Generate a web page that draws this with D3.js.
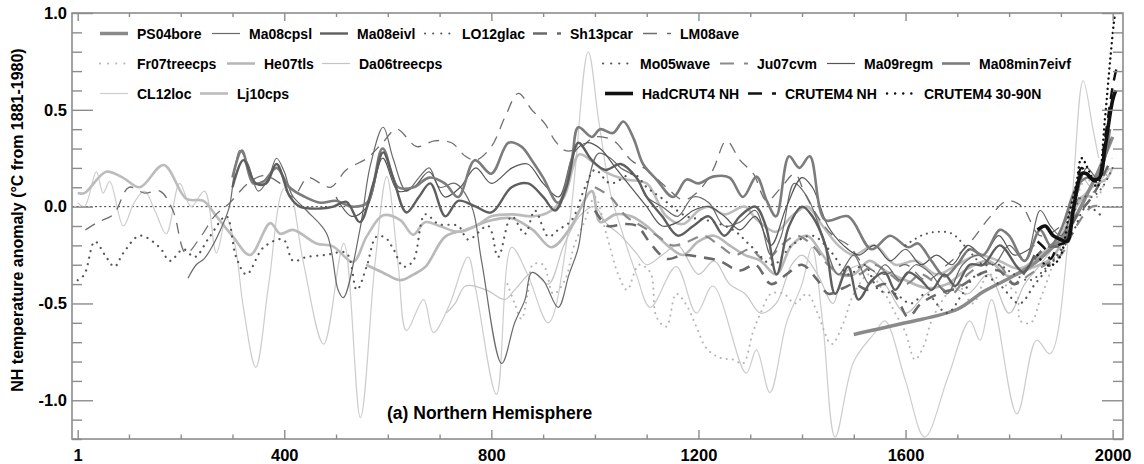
<!DOCTYPE html>
<html>
<head>
<meta charset="utf-8">
<script src="https://cdn.jsdelivr.net/npm/d3@7/dist/d3.min.js"></script>
<style>
body { margin: 0; background: #fff; }
svg { display: block; font-family: "Liberation Sans", Arial, Helvetica, sans-serif; font-weight: bold; }
</style>
</head>
<body>
<svg id="chart" width="1144" height="464"></svg>
<script>
// tick labels
const xMajorTicks = [1, 400, 800, 1200, 1600, 2000];
const xMinorTicks = [100, 200, 300, 500, 600, 700, 900, 1000, 1100, 1300, 1400, 1500, 1700, 1800, 1900];
const yMajorTicks = [-1.0, -0.5, 0.0, 0.5, 1.0];
const yMinorTicks = [-1.2, -1.1, -0.9, -0.8, -0.7, -0.6, -0.4, -0.3, -0.2, -0.1, 0.1, 0.2, 0.3, 0.4, 0.6, 0.7, 0.8, 0.9];

// series: [year, anomaly]
const cl12loc = [[1,0.02],[14,0.0],[37,0.18],[50,0.07],[63,0.13],[89,-0.1],[110,0.02],[130,0.08],[150,-0.02],[172,-0.14],[198,0.12],[220,0.0],[246,0.08],[269,-0.24],[288,-0.06],[305,-0.2],[321,-0.52],[345,-0.83],[370,-0.4],[398,0.09],[408,0.1],[437,-0.29],[476,-0.71],[515,-0.19],[547,-1.09],[575,-0.3],[598,0.155],[620,-0.3],[636,-0.64],[669,-0.48],[688,-0.65],[717,-0.52],[755,-0.26],[770,-0.43],[810,-0.97],[839,-0.21],[870,-0.35],[910,-0.6],[950,-0.1],[987,0.8],[1007,0.45],[1030,0.07],[1049,-0.1],[1080,-0.35],[1107,-0.52],[1157,-0.31],[1196,-0.55],[1228,-0.41],[1292,-0.86],[1312,-0.74],[1338,-0.96],[1370,-0.6],[1400,-0.4],[1419,-0.21],[1440,-0.6],[1464,-1.19],[1500,-0.8],[1541,-0.65],[1560,-0.59],[1600,-0.9],[1637,-1.19],[1682,-0.88],[1724,-0.59],[1744,-0.69],[1766,-0.48],[1815,-1.07],[1853,-0.69],[1879,-0.76],[1917,-0.1],[1943,0.65],[1962,0.4],[1973,0.25]];
const da06treecps = [[713,-0.55],[730,-0.5],[750,-0.41],[790,-0.43],[826,-0.48],[845,-0.43],[880,-0.34],[910,-0.4],[940,-0.2],[970,-0.05],[1000,0.0],[1020,-0.08],[1050,-0.15],[1080,-0.24],[1100,-0.3],[1130,-0.25],[1160,-0.2],[1200,-0.35],[1230,-0.28],[1260,-0.4],[1290,-0.45],[1320,-0.55],[1350,-0.5],[1380,-0.3],[1400,-0.25],[1430,-0.35],[1460,-0.5],[1480,-0.35],[1520,-0.3],[1560,-0.4],[1600,-0.55],[1640,-0.45],[1680,-0.4],[1720,-0.45],[1760,-0.35],[1800,-0.55],[1830,-0.4],[1860,-0.3],[1900,-0.15],[1940,0.15],[1960,0.1],[1995,0.2]];
const fr07treecps = [[831,-0.4],[845,-0.5],[858,-0.58],[870,-0.45],[880,-0.3],[900,-0.3],[920,-0.45],[942,-0.38],[960,-0.2],[981,-0.07],[1000,0.05],[1023,-0.15],[1045,-0.35],[1062,-0.43],[1085,-0.3],[1107,-0.34],[1119,-0.57],[1138,-0.62],[1157,-0.45],[1175,-0.5],[1196,-0.62],[1215,-0.73],[1241,-0.78],[1267,-0.79],[1286,-0.81],[1305,-0.65],[1320,-0.55],[1340,-0.45],[1365,-0.45],[1386,-0.5],[1410,-0.45],[1430,-0.55],[1457,-0.71],[1480,-0.6],[1500,-0.45],[1530,-0.35],[1560,-0.45],[1580,-0.55],[1600,-0.65],[1618,-0.79],[1635,-0.72],[1650,-0.59],[1680,-0.45],[1700,-0.4],[1730,-0.5],[1760,-0.35],[1790,-0.4],[1815,-0.45],[1822,-0.59],[1842,-0.6],[1860,-0.48],[1879,-0.34],[1911,-0.05],[1930,0.05],[1950,0.15],[1970,0.05],[1992,0.2]];
const he07tls = [[558,-0.3],[590,-0.34],[624,-0.38],[650,-0.35],[673,-0.31],[711,-0.155],[750,-0.12],[800,-0.07],[839,-0.06],[880,-0.12],[916,-0.21],[950,-0.12],[994,0.08],[1010,-0.08],[1040,-0.04],[1070,-0.05],[1100,-0.1],[1140,-0.2],[1170,-0.25],[1200,-0.18],[1230,-0.15],[1260,-0.2],[1290,-0.25],[1320,-0.28],[1350,-0.35],[1380,-0.2],[1410,-0.15],[1440,-0.25],[1470,-0.35],[1500,-0.35],[1530,-0.28],[1560,-0.33],[1600,-0.38],[1640,-0.42],[1680,-0.4],[1720,-0.32],[1760,-0.28],[1800,-0.36],[1840,-0.32],[1880,-0.27],[1910,-0.15],[1940,0.05],[1960,0.05]];
const lj10cps = [[1,0.07],[14,0.07],[56,0.18],[88,0.15],[121,0.1],[167,0.215],[211,0.04],[244,0.03],[269,-0.05],[301,-0.155],[334,-0.25],[373,-0.085],[392,-0.14],[417,-0.12],[462,-0.19],[494,-0.205],[533,-0.285],[559,-0.155],[591,-0.045],[624,-0.07],[649,-0.145],[672,-0.08],[700,-0.1],[736,-0.13],[770,-0.1],[800,-0.05],[840,-0.04],[880,-0.05],[910,-0.03],[940,0.05],[970,0.27],[1000,0.22],[1020,0.18],[1060,0.14],[1100,0.12],[1138,-0.05],[1170,-0.09],[1200,-0.02],[1220,0.0],[1250,-0.04],[1290,0.0],[1310,-0.06],[1350,-0.13],[1380,-0.05],[1410,0.0],[1440,-0.1],[1470,-0.2],[1500,-0.25],[1540,-0.2],[1580,-0.3],[1620,-0.28],[1660,-0.35],[1700,-0.3],[1740,-0.25],[1780,-0.28],[1820,-0.32],[1860,-0.25],[1900,-0.15],[1930,0.0],[1960,0.1],[1990,0.15],[1999,0.2]];
const ps04bore = [[1500,-0.66],[1600,-0.6],[1700,-0.53],[1750,-0.44],[1800,-0.37],[1850,-0.29],[1880,-0.22],[1900,-0.17],[1925,-0.07],[1950,0.06],[1975,0.2],[2000,0.36]];
const lm08ave = [[16,-0.12],[40,-0.08],[70,-0.04],[100,0.1],[130,0.07],[160,0.08],[185,-0.02],[210,-0.24],[240,-0.15],[265,-0.05],[295,0.02],[330,0.12],[360,0.16],[392,0.12],[417,0.05],[445,0.15],[470,0.12],[490,0.1],[520,0.19],[560,0.25],[590,0.33],[617,0.4],[656,0.31],[690,0.34],[723,0.33],[750,0.26],[770,0.24],[800,0.31],[826,0.46],[852,0.585],[878,0.5],[903,0.43],[923,0.34],[942,0.29],[970,0.3],[1000,0.36],[1036,0.34],[1070,0.24],[1100,0.19],[1138,0.1],[1171,0.035],[1200,0.08],[1228,0.19],[1254,0.34],[1280,0.24],[1306,0.17],[1332,0.03],[1360,0.1],[1386,0.17],[1405,0.07],[1430,-0.05],[1460,-0.15],[1490,-0.2],[1520,-0.3],[1560,-0.35],[1600,-0.3],[1640,-0.38],[1680,-0.3],[1720,-0.2],[1764,-0.05],[1796,0.03],[1825,0.0],[1860,-0.15],[1900,-0.1],[1935,0.05]];
const ju07cvm = [[1000,0.1],[1030,0.05],[1060,-0.05],[1090,-0.1],[1120,-0.15],[1150,-0.2],[1180,-0.18],[1210,-0.15],[1240,-0.2],[1270,-0.25],[1300,-0.22],[1330,-0.28],[1360,-0.2],[1390,-0.15],[1420,-0.2],[1450,-0.3],[1480,-0.35],[1510,-0.35],[1540,-0.3],[1570,-0.35],[1600,-0.4],[1630,-0.35],[1660,-0.4],[1690,-0.45],[1720,-0.35],[1750,-0.3],[1780,-0.3],[1810,-0.4],[1840,-0.35],[1870,-0.3],[1900,-0.25],[1930,-0.1],[1960,0.0],[1980,0.0]];
const sh13pcar = [[1000,-0.02],[1025,-0.1],[1055,-0.09],[1081,-0.1],[1110,-0.2],[1139,-0.27],[1170,-0.25],[1203,-0.26],[1240,-0.28],[1280,-0.33],[1310,-0.3],[1340,-0.4],[1370,-0.35],[1400,-0.3],[1430,-0.38],[1451,-0.45],[1480,-0.42],[1500,-0.4],[1528,-0.43],[1560,-0.4],[1585,-0.48],[1605,-0.57],[1630,-0.5],[1663,-0.45],[1700,-0.42],[1725,-0.38],[1750,-0.34],[1780,-0.33],[1810,-0.4],[1840,-0.3],[1872,-0.21],[1900,-0.2],[1930,-0.05],[1960,0.05],[1998,0.25]];
const ma08cpsl = [[214,-0.37],[230,-0.3],[245,-0.27],[262,-0.2],[280,-0.1],[294,0.0],[305,0.2],[314,0.29],[330,0.22],[350,0.08],[370,0.15],[385,0.25],[400,0.18],[415,0.06],[443,-0.02],[482,-0.14],[504,-0.43],[514,-0.47],[546,-0.12],[566,0.21],[591,0.41],[610,0.25],[636,0.08],[660,0.15],[680,0.2],[700,0.1],[730,0.12],[762,0.0],[781,-0.28],[820,-0.81],[845,-0.6],[865,-0.48],[878,-0.34],[900,-0.38],[929,-0.52],[950,-0.35],[968,-0.21],[985,0.1],[1007,0.275],[1030,0.25],[1050,0.2],[1080,0.15],[1100,0.05],[1130,0.0],[1160,-0.05],[1190,0.05],[1220,0.02],[1250,-0.1],[1280,-0.08],[1310,-0.02],[1340,-0.25],[1360,-0.15],[1385,0.12],[1410,0.05],[1440,-0.15],[1470,-0.35],[1500,-0.25],[1530,-0.4],[1560,-0.3],[1590,-0.38],[1620,-0.3],[1650,-0.35],[1680,-0.45],[1710,-0.3],[1740,-0.25],[1770,-0.3],[1800,-0.2],[1830,-0.28],[1860,-0.02],[1880,-0.1],[1900,-0.15],[1930,0.05],[1950,0.2],[1970,0.15],[1995,0.35]];
const ma09regm = [[500,0.05],[530,-0.05],[560,0.0],[590,0.25],[620,0.08],[650,0.1],[680,0.18],[710,0.05],[740,0.1],[770,0.2],[800,0.12],[840,0.2],[870,0.22],[900,0.12],[930,0.05],[960,0.28],[985,0.33],[1010,0.3],[1040,0.2],[1070,0.1],[1100,0.0],[1130,-0.1],[1160,-0.08],[1190,-0.02],[1220,0.0],[1250,-0.05],[1280,-0.12],[1310,-0.05],[1340,-0.2],[1370,0.0],[1400,0.15],[1420,0.1],[1450,-0.1],[1480,-0.2],[1510,-0.25],[1540,-0.2],[1570,-0.28],[1600,-0.22],[1630,-0.3],[1660,-0.25],[1690,-0.3],[1720,-0.2],[1750,-0.25],[1780,-0.15],[1810,-0.25],[1849,-0.2]];
const ma08min7eivf = [[300,0.15],[318,0.29],[340,0.12],[360,0.13],[385,0.2],[410,0.1],[440,0.05],[470,0.02],[500,0.03],[530,0.0],[560,0.02],[590,0.3],[620,0.1],[650,0.1],[680,0.15],[710,0.12],[736,0.05],[768,0.24],[800,0.17],[833,0.33],[858,0.31],[878,0.24],[900,0.15],[929,0.02],[955,0.24],[968,0.41],[994,0.36],[1010,0.4],[1035,0.38],[1055,0.44],[1075,0.35],[1093,0.22],[1119,0.14],[1151,0.05],[1177,0.14],[1200,0.12],[1228,0.155],[1260,0.15],[1286,0.05],[1312,0.155],[1332,0.03],[1350,-0.05],[1375,0.26],[1395,0.2],[1415,0.26],[1445,-0.07],[1489,-0.05],[1534,-0.22],[1570,-0.15],[1605,-0.21],[1624,-0.19],[1650,-0.28],[1676,-0.36],[1700,-0.3],[1724,-0.22],[1750,-0.25],[1782,-0.12],[1800,-0.15],[1830,-0.28],[1860,-0.12],[1880,-0.2],[1900,-0.12],[1930,0.1],[1950,0.15],[1970,0.15],[1995,0.4]];
const ma08eivl = [[300,0.1],[321,0.24],[345,0.12],[365,0.12],[385,0.22],[411,0.05],[430,0.0],[469,-0.01],[495,0.0],[520,0.025],[546,-0.08],[572,0.12],[591,0.28],[610,0.15],[636,-0.03],[660,0.05],[682,0.12],[711,-0.05],[736,0.03],[770,0.0],[800,-0.03],[839,0.1],[871,0.12],[900,0.05],[923,-0.02],[945,0.1],[968,0.33],[994,0.24],[1020,0.19],[1050,0.22],[1080,0.15],[1100,0.05],[1130,-0.05],[1160,-0.15],[1190,-0.1],[1220,-0.05],[1250,-0.15],[1280,-0.05],[1310,0.0],[1330,-0.1],[1351,-0.35],[1375,-0.1],[1400,0.0],[1420,-0.05],[1445,-0.2],[1464,-0.45],[1489,-0.31],[1509,-0.48],[1535,-0.38],[1560,-0.34],[1580,-0.43],[1605,-0.34],[1630,-0.38],[1650,-0.43],[1675,-0.35],[1696,-0.41],[1724,-0.3],[1750,-0.3],[1782,-0.2],[1815,-0.31],[1828,-0.34],[1849,-0.25]];
const mo05wave = [[1,-0.38],[14,-0.35],[34,-0.18],[56,-0.26],[72,-0.31],[89,-0.24],[121,-0.15],[159,-0.21],[179,-0.28],[205,-0.22],[227,-0.26],[256,-0.155],[288,-0.05],[307,-0.26],[327,-0.35],[360,-0.21],[398,-0.17],[417,-0.28],[443,-0.26],[480,-0.25],[520,-0.24],[540,-0.43],[559,-0.31],[578,-0.155],[595,-0.16],[611,-0.22],[630,-0.31],[649,-0.28],[672,-0.04],[698,-0.09],[736,-0.1],[755,-0.17],[794,-0.1],[813,-0.26],[839,-0.05],[865,-0.14],[884,-0.02],[910,-0.155],[929,-0.12],[955,-0.07],[981,0.1],[1000,0.19],[1030,0.12],[1074,0.17],[1100,0.1],[1126,0.05],[1177,-0.05],[1216,-0.07],[1267,-0.12],[1300,-0.2],[1344,-0.3],[1380,-0.2],[1420,-0.15],[1458,-0.24],[1490,-0.35],[1520,-0.3],[1548,-0.43],[1580,-0.45],[1610,-0.5],[1640,-0.45],[1680,-0.55],[1710,-0.45],[1740,-0.35],[1780,-0.4],[1820,-0.5],[1850,-0.4],[1880,-0.3],[1920,-0.15],[1950,0.0],[1979,-0.05]];
const lo12glac = [[1600,-0.2],[1630,-0.15],[1660,-0.13],[1690,-0.14],[1720,-0.22],[1750,-0.3],[1780,-0.3],[1810,-0.35],[1840,-0.38],[1870,-0.32],[1900,-0.22],[1920,-0.08],[1940,0.05],[1960,0.05],[1980,0.1],[2000,0.2]];
const crutem4_3090n = [[1855,-0.25],[1870,-0.3],[1885,-0.3],[1900,-0.25],[1915,-0.05],[1930,0.12],[1940,0.25],[1955,0.18],[1970,0.1],[1985,0.45],[1995,0.75],[2005,1.0],[2010,1.05]];
const crutem4nh = [[1855,-0.18],[1870,-0.22],[1880,-0.27],[1895,-0.2],[1910,-0.18],[1925,0.0],[1940,0.2],[1955,0.15],[1970,0.13],[1985,0.35],[2000,0.62],[2008,0.72]];
const hadcrut4nh = [[1855,-0.12],[1870,-0.1],[1885,-0.15],[1900,-0.17],[1912,-0.18],[1925,0.0],[1940,0.17],[1950,0.17],[1962,0.14],[1975,0.15],[1985,0.3],[2000,0.55],[2006,0.6]];

const margin = { left: 72, right: 1123, top: 13, bottom: 439 };
const svg = d3.select("#chart");

// drawing order light -> dark, style per series
const series = [
    { name: "CL12loc", data: cl12loc, color: "#cdcdcd", width: 1.2, dash: null },
    { name: "Da06treecps", data: da06treecps, color: "#c4c4c4", width: 1.2, dash: null },
    { name: "Fr07treecps", data: fr07treecps, color: "#b4b4b4", width: 2, dash: "0.1,6" },
    { name: "He07tls", data: he07tls, color: "#b8b8b8", width: 2.6, dash: null },
    { name: "Lj10cps", data: lj10cps, color: "#bcbcbc", width: 2.6, dash: null },
    { name: "PS04bore", data: ps04bore, color: "#8a8a8a", width: 3.5, dash: null },
    { name: "LM08ave", data: lm08ave, color: "#6e6e6e", width: 1.3, dash: "11,8" },
    { name: "Ju07cvm", data: ju07cvm, color: "#8a8a8a", width: 2.2, dash: "11,8" },
    { name: "Sh13pcar", data: sh13pcar, color: "#6a6a6a", width: 2.6, dash: "11,8" },
    { name: "Ma08cpsl", data: ma08cpsl, color: "#6a6a6a", width: 1.2, dash: null },
    { name: "Ma09regm", data: ma09regm, color: "#555555", width: 1.2, dash: null },
    { name: "Ma08min7eivf", data: ma08min7eivf, color: "#7c7c7c", width: 2.6, dash: null },
    { name: "Ma08eivl", data: ma08eivl, color: "#5e5e5e", width: 2.4, dash: null },
    { name: "Mo05wave", data: mo05wave, color: "#555555", width: 2.2, dash: "0.1,6.5" },
    { name: "LO12glac", data: lo12glac, color: "#555555", width: 2, dash: "0.1,6" },
    { name: "CRUTEM4 30-90N", data: crutem4_3090n, color: "#111111", width: 2.4, dash: "0.1,5" },
    { name: "CRUTEM4 NH", data: crutem4nh, color: "#111111", width: 2.4, dash: "11,8" },
    { name: "HadCRUT4 NH", data: hadcrut4nh, color: "#111111", width: 3.6, dash: null }
];

// legend layout: [name, line start x, row]
const legendLayout = [
    ["PS04bore", 100, 0], ["Ma08cpsl", 212, 0], ["Ma08eivl", 320, 0], ["LO12glac", 425, 0], ["Sh13pcar", 533, 0], ["LM08ave", 643, 0],
    ["Fr07treecps", 100, 1], ["He07tls", 227, 1], ["Da06treecps", 322, 1], ["Mo05wave", 603, 1], ["Ju07cvm", 720, 1], ["Ma09regm", 827, 1], ["Ma08min7eivf", 942, 1],
    ["CL12loc", 100, 2], ["Lj10cps", 200, 2], ["HadCRUT4 NH", 605, 2], ["CRUTEM4 NH", 748, 2], ["CRUTEM4 30-90N", 887, 2]
];

const x = d3.scaleLinear().domain([-10, 2020]).range([margin.left, margin.right]);
const y = d3.scaleLinear().domain([-1.2, 1.0]).range([margin.bottom, margin.top]);

addClip();
addZeroLine();
addSeries();
addAxes();
addLegend();
addLabels();

function addClip() {
    svg.append("defs").append("clipPath").attr("id", "plotClip")
        .append("rect")
        .attr("x", margin.left).attr("y", margin.top)
        .attr("width", margin.right - margin.left)
        .attr("height", margin.bottom - margin.top);
}

function addZeroLine() {
    svg.append("line")
        .attr("x1", margin.left).attr("x2", margin.right)
        .attr("y1", y(0)).attr("y2", y(0))
        .attr("stroke", "#222").attr("stroke-width", 0.9)
        .attr("stroke-dasharray", "2,2.6");
}

function addSeries() {
    const line = d3.line()
        .x(d => x(d[0]))
        .y(d => y(d[1]))
        .curve(d3.curveCatmullRom);
    const g = svg.append("g").attr("clip-path", "url(#plotClip)");
    series.forEach(s => {
        g.append("path")
            .attr("d", line(s.data))
            .attr("fill", "none")
            .attr("stroke", s.color)
            .attr("stroke-width", s.width)
            .attr("stroke-linecap", s.dash && s.dash.startsWith("0.1") ? "round" : "butt")
            .attr("stroke-linejoin", "round")
            .attr("stroke-dasharray", s.dash);
    });
}

function addAxes() {
    const frameColor = "#8c8c8c";
    const fmt = d => d.toFixed(1);
    const styleAxis = sel => {
        sel.select(".domain").remove();
        sel.selectAll("line").attr("stroke", frameColor).attr("stroke-width", 1.4);
        sel.selectAll("text").attr("fill", "#000").style("font-size", "16.5px").style("font-weight", "bold");
    };

    svg.append("g").attr("transform", `translate(0,${ margin.bottom })`)
        .call(d3.axisBottom(x).tickValues(xMajorTicks).tickSize(-9).tickPadding(10).tickFormat(d3.format("d")))
        .call(styleAxis);
    svg.append("g").attr("transform", `translate(0,${ margin.bottom })`)
        .call(d3.axisBottom(x).tickValues(xMinorTicks).tickSize(-4.5).tickFormat(""))
        .call(styleAxis);
    svg.append("g").attr("transform", `translate(0,${ margin.top })`)
        .call(d3.axisTop(x).tickValues(xMajorTicks).tickSize(-8).tickFormat(""))
        .call(styleAxis);
    svg.append("g").attr("transform", `translate(0,${ margin.top })`)
        .call(d3.axisTop(x).tickValues(xMinorTicks).tickSize(-4).tickFormat(""))
        .call(styleAxis);

    svg.append("g").attr("transform", `translate(${ margin.left },0)`)
        .call(d3.axisLeft(y).tickValues(yMajorTicks).tickSize(-21).tickPadding(5).tickFormat(fmt))
        .call(styleAxis);
    svg.append("g").attr("transform", `translate(${ margin.left },0)`)
        .call(d3.axisLeft(y).tickValues(yMinorTicks).tickSize(-10).tickFormat(""))
        .call(styleAxis);
    svg.append("g").attr("transform", `translate(${ margin.right },0)`)
        .call(d3.axisRight(y).tickValues(yMajorTicks).tickSize(-21).tickFormat(""))
        .call(styleAxis);
    svg.append("g").attr("transform", `translate(${ margin.right },0)`)
        .call(d3.axisRight(y).tickValues(yMinorTicks).tickSize(-10).tickFormat(""))
        .call(styleAxis);

    svg.append("rect")
        .attr("x", margin.left).attr("y", margin.top)
        .attr("width", margin.right - margin.left)
        .attr("height", margin.bottom - margin.top)
        .attr("fill", "none").attr("stroke", frameColor).attr("stroke-width", 1.6);
}

function addLegend() {
    const rowY = [33.5, 63.5, 93.5];
    const byName = new Map(series.map(s => [s.name, s]));
    const g = svg.append("g");
    legendLayout.forEach(([name, lx, row]) => {
        const s = byName.get(name);
        g.append("line")
            .attr("x1", lx).attr("x2", lx + 28)
            .attr("y1", rowY[row]).attr("y2", rowY[row])
            .attr("stroke", s.color)
            .attr("stroke-width", s.width)
            .attr("stroke-linecap", s.dash && s.dash.startsWith("0.1") ? "round" : "butt")
            .attr("stroke-dasharray", s.dash && s.dash.startsWith("0.1") ? "0.1,8" : (s.dash ? "14,10" : null));
        g.append("text")
            .attr("x", lx + 37).attr("y", rowY[row])
            .attr("dy", "0.36em")
            .style("font-size", "14px")
            .text(name);
    });
}

function addLabels() {
    svg.append("text")
        .attr("transform", "translate(23,220) rotate(-90)")
        .attr("text-anchor", "middle")
        .style("font-size", "16px")
        .text("NH temperature anomaly (°C from 1881-1980)");
    svg.append("text")
        .attr("x", 387).attr("y", 413)
        .attr("dy", "0.36em")
        .style("font-size", "17.5px")
        .text("(a) Northern Hemisphere");
}
</script>
</body>
</html>
